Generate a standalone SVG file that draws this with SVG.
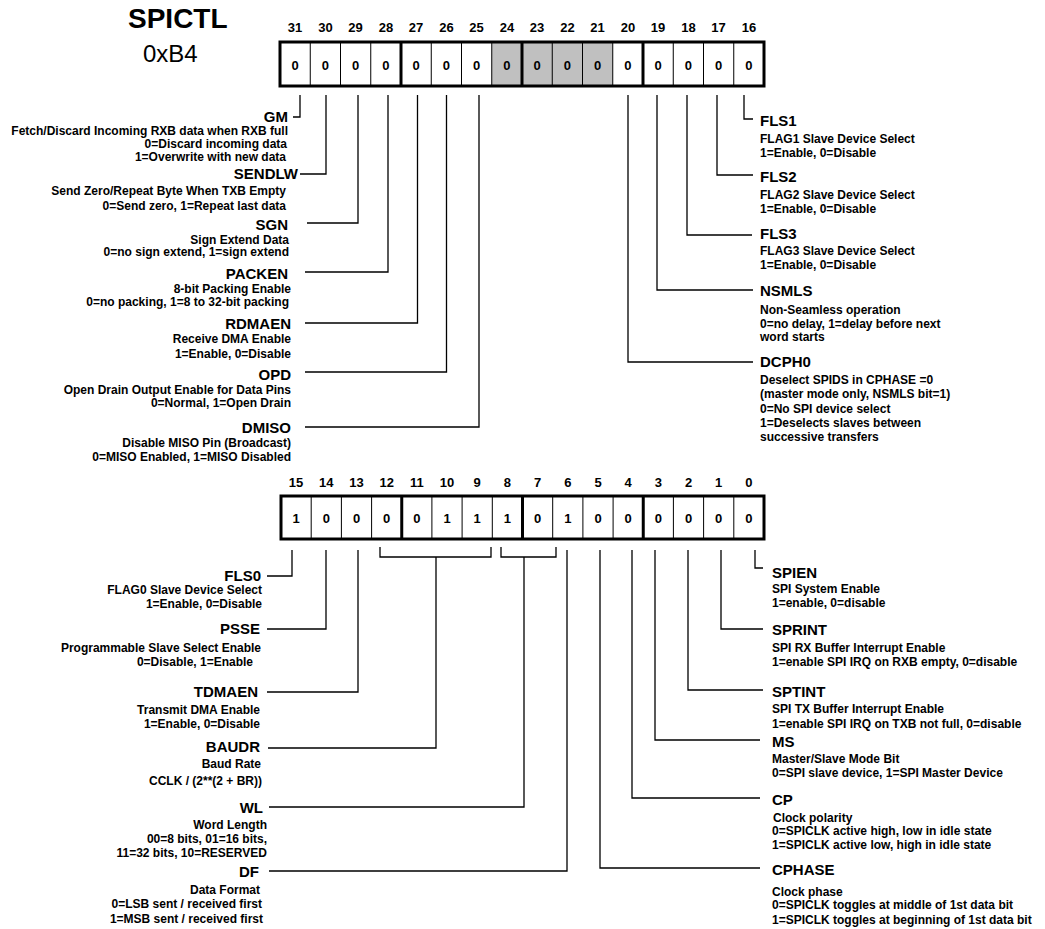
<svg xmlns="http://www.w3.org/2000/svg" width="1045" height="929" viewBox="0 0 1045 929">
<style>
text{font-family:"Liberation Sans",Arial,Helvetica,sans-serif;font-weight:bold;fill:#000}
.t{font-size:28px}
.a{font-size:24px;font-weight:normal}
.n{font-size:13px;text-anchor:middle}
.v{font-size:13px;text-anchor:middle}
.h{font-size:15px}
.s{font-size:12px}
.e{text-anchor:end}
.box{fill:none;stroke:#000;stroke-width:3}
.thin{stroke:#000;stroke-width:1}
.thick{stroke:#000;stroke-width:3}
.g{fill:#c0c0c0}
.c{fill:none;stroke:#000;stroke-width:1.3}
</style>
<rect width="1045" height="929" fill="#fff"/>
<g id="title">
<text class="t" x="128" y="28">SPICTL</text>
<text class="a" x="143" y="62">0xB4</text>
</g>
<g id="register-high">
<g class="n">
<text x="295.1" y="32">31</text><text x="325.4" y="32">30</text><text x="355.6" y="32">29</text><text x="385.9" y="32">28</text>
<text x="416.1" y="32">27</text><text x="446.4" y="32">26</text><text x="476.6" y="32">25</text><text x="506.9" y="32">24</text>
<text x="537.1" y="32">23</text><text x="567.4" y="32">22</text><text x="597.6" y="32">21</text><text x="627.9" y="32">20</text>
<text x="658.1" y="32">19</text><text x="688.4" y="32">18</text><text x="718.6" y="32">17</text><text x="748.9" y="32">16</text>
</g>
<rect class="g" x="491.75" y="42" width="121" height="44"/>
<g class="thin">
<line x1="310.25" y1="42" x2="310.25" y2="86"/><line x1="340.5" y1="42" x2="340.5" y2="86"/><line x1="370.75" y1="42" x2="370.75" y2="86"/>
<line x1="431.25" y1="42" x2="431.25" y2="86"/><line x1="461.5" y1="42" x2="461.5" y2="86"/><line x1="491.75" y1="42" x2="491.75" y2="86"/>
<line x1="552.25" y1="42" x2="552.25" y2="86"/><line x1="582.5" y1="42" x2="582.5" y2="86"/><line x1="612.75" y1="42" x2="612.75" y2="86"/>
<line x1="673.25" y1="42" x2="673.25" y2="86"/><line x1="703.5" y1="42" x2="703.5" y2="86"/><line x1="733.75" y1="42" x2="733.75" y2="86"/>
</g>
<g class="thick">
<line x1="401" y1="42" x2="401" y2="86"/><line x1="522" y1="42" x2="522" y2="86"/><line x1="643" y1="42" x2="643" y2="86"/>
</g>
<rect class="box" x="280" y="42" width="484" height="44"/>
<g class="v">
<text x="295.1" y="70">0</text><text x="325.4" y="70">0</text><text x="355.6" y="70">0</text><text x="385.9" y="70">0</text>
<text x="416.1" y="70">0</text><text x="446.4" y="70">0</text><text x="476.6" y="70">0</text><text x="506.9" y="70">0</text>
<text x="537.1" y="70">0</text><text x="567.4" y="70">0</text><text x="597.6" y="70">0</text><text x="627.9" y="70">0</text>
<text x="658.1" y="70">0</text><text x="688.4" y="70">0</text><text x="718.6" y="70">0</text><text x="748.9" y="70">0</text>
</g>
</g>
<g id="register-low">
<g class="n">
<text x="296.1" y="487">15</text><text x="326.3" y="487">14</text><text x="356.5" y="487">13</text><text x="386.7" y="487">12</text>
<text x="416.8" y="487">11</text><text x="447" y="487">10</text><text x="477.2" y="487">9</text><text x="507.4" y="487">8</text>
<text x="537.6" y="487">7</text><text x="567.8" y="487">6</text><text x="598" y="487">5</text><text x="628.2" y="487">4</text>
<text x="658.3" y="487">3</text><text x="688.5" y="487">2</text><text x="718.7" y="487">1</text><text x="748.9" y="487">0</text>
</g>
<g class="thin">
<line x1="311.2" y1="496" x2="311.2" y2="539"/><line x1="341.4" y1="496" x2="341.4" y2="539"/><line x1="371.6" y1="496" x2="371.6" y2="539"/>
<line x1="431.9" y1="496" x2="431.9" y2="539"/><line x1="462.1" y1="496" x2="462.1" y2="539"/><line x1="492.3" y1="496" x2="492.3" y2="539"/>
<line x1="552.7" y1="496" x2="552.7" y2="539"/><line x1="582.9" y1="496" x2="582.9" y2="539"/><line x1="613.1" y1="496" x2="613.1" y2="539"/>
<line x1="673.4" y1="496" x2="673.4" y2="539"/><line x1="703.6" y1="496" x2="703.6" y2="539"/><line x1="733.8" y1="496" x2="733.8" y2="539"/>
</g>
<g class="thick">
<line x1="401.75" y1="496" x2="401.75" y2="539"/><line x1="522.5" y1="496" x2="522.5" y2="539"/><line x1="643.25" y1="496" x2="643.25" y2="539"/>
</g>
<rect class="box" x="281" y="496" width="483" height="43"/>
<g class="v">
<text x="296.1" y="523">1</text><text x="326.3" y="523">0</text><text x="356.5" y="523">0</text><text x="386.7" y="523">0</text>
<text x="416.8" y="523">0</text><text x="447" y="523">1</text><text x="477.2" y="523">1</text><text x="507.4" y="523">1</text>
<text x="537.6" y="523">0</text><text x="567.8" y="523">1</text><text x="598" y="523">0</text><text x="628.2" y="523">0</text>
<text x="658.3" y="523">0</text><text x="688.5" y="523">0</text><text x="718.7" y="523">0</text><text x="748.9" y="523">0</text>
</g>
</g>
<g id="connectors" class="c">
<polyline points="300,95 300,117 293,117"/>
<polyline points="326,95 326,174 300,174"/>
<polyline points="358,95 358,223 307,223"/>
<polyline points="388,95 388,272 305,272"/>
<polyline points="417.5,95 417.5,323 305,323"/>
<polyline points="446.5,95 446.5,372 305,372"/>
<polyline points="479,95 479,427 305,427"/>
<polyline points="744,95 744,119 753,119"/>
<polyline points="717,95 717,175 753,175"/>
<polyline points="687,95 687,235 752,235"/>
<polyline points="657,95 657,290 753,290"/>
<polyline points="628,95 628,362 753,362"/>
<polyline points="292,550 292,576 267,576"/>
<polyline points="326,550 326,629 267,629"/>
<polyline points="358,550 358,692 267,692"/>
<polyline points="380,547 380,557 491,557 491,547"/>
<polyline points="436,557 436,748 268,748"/>
<polyline points="501,547 501,557 556,557 556,547"/>
<polyline points="524,557 524,807 269,807"/>
<polyline points="567,550 567,871 269,871"/>
<polyline points="755,550 755,568 763,568"/>
<polyline points="721,550 721,629 763,629"/>
<polyline points="688,550 688,690 763,690"/>
<polyline points="655,550 655,740 760,740"/>
<polyline points="632,550 632,798 760,798"/>
<polyline points="600,550 600,868 760,868"/>
</g>
<g id="GM" class="e">
<text class="h" x="288" y="122">GM</text>
<text class="s" x="288" y="135">Fetch/Discard Incoming RXB data when RXB full</text>
<text class="s" x="287" y="148">0=Discard incoming data</text>
<text class="s" x="286" y="161">1=Overwrite with new data</text>
</g>
<g id="SENDLW" class="e">
<text class="h" x="298" y="179">SENDLW</text>
<text class="s" x="286" y="195">Send Zero/Repeat Byte When TXB Empty</text>
<text class="s" x="286" y="210">0=Send zero, 1=Repeat last data</text>
</g>
<g id="SGN" class="e">
<text class="h" x="288" y="230">SGN</text>
<text class="s" x="289" y="244">Sign Extend Data</text>
<text class="s" x="289" y="256">0=no sign extend, 1=sign extend</text>
</g>
<g id="PACKEN" class="e">
<text class="h" x="288" y="279">PACKEN</text>
<text class="s" x="291" y="293">8-bit Packing Enable</text>
<text class="s" x="289" y="306">0=no packing, 1=8 to 32-bit packing</text>
</g>
<g id="RDMAEN" class="e">
<text class="h" x="291" y="329">RDMAEN</text>
<text class="s" x="291" y="343">Receive DMA Enable</text>
<text class="s" x="291" y="358">1=Enable, 0=Disable</text>
</g>
<g id="OPD" class="e">
<text class="h" x="291" y="380">OPD</text>
<text class="s" x="291" y="394">Open Drain Output Enable for Data Pins</text>
<text class="s" x="291" y="407">0=Normal, 1=Open Drain</text>
</g>
<g id="DMISO" class="e">
<text class="h" x="291" y="433">DMISO</text>
<text class="s" x="291" y="447">Disable MISO Pin (Broadcast)</text>
<text class="s" x="291" y="461">0=MISO Enabled, 1=MISO Disabled</text>
</g>
<g id="FLS1">
<text class="h" x="760" y="126">FLS1</text>
<text class="s" x="760" y="142.5">FLAG1 Slave Device Select</text>
<text class="s" x="760" y="156.5">1=Enable, 0=Disable</text>
</g>
<g id="FLS2">
<text class="h" x="760" y="182">FLS2</text>
<text class="s" x="760" y="198.5">FLAG2 Slave Device Select</text>
<text class="s" x="760" y="212.5">1=Enable, 0=Disable</text>
</g>
<g id="FLS3">
<text class="h" x="760" y="238.5">FLS3</text>
<text class="s" x="760" y="254.5">FLAG3 Slave Device Select</text>
<text class="s" x="760" y="268.5">1=Enable, 0=Disable</text>
</g>
<g id="NSMLS">
<text class="h" x="760" y="296">NSMLS</text>
<text class="s" x="760" y="313.5">Non-Seamless operation</text>
<text class="s" x="760" y="327.5">0=no delay, 1=delay before next</text>
<text class="s" x="760" y="340.5">word starts</text>
</g>
<g id="DCPH0">
<text class="h" x="760" y="367">DCPH0</text>
<text class="s" x="760" y="383.5">Deselect SPIDS in CPHASE =0</text>
<text class="s" x="760" y="397.5">(master mode only, NSMLS bit=1)</text>
<text class="s" x="760" y="412.5">0=No SPI device select</text>
<text class="s" x="760" y="426.5">1=Deselects slaves between</text>
<text class="s" x="760" y="440.5">successive transfers</text>
</g>
<g id="FLS0" class="e">
<text class="h" x="261" y="581">FLS0</text>
<text class="s" x="262" y="594">FLAG0 Slave Device Select</text>
<text class="s" x="262" y="608">1=Enable, 0=Disable</text>
</g>
<g id="PSSE" class="e">
<text class="h" x="260" y="634">PSSE</text>
<text class="s" x="261" y="651.5">Programmable Slave Select Enable</text>
<text class="s" x="253" y="665.5">0=Disable, 1=Enable</text>
</g>
<g id="TDMAEN" class="e">
<text class="h" x="258" y="697">TDMAEN</text>
<text class="s" x="260" y="713.5">Transmit DMA Enable</text>
<text class="s" x="260" y="727.5">1=Enable, 0=Disable</text>
</g>
<g id="BAUDR" class="e">
<text class="h" x="260" y="752">BAUDR</text>
<text class="s" x="261" y="767.5">Baud Rate</text>
<text class="s" x="262" y="784.5">CCLK / (2**(2 + BR))</text>
</g>
<g id="WL" class="e">
<text class="h" x="263" y="813">WL</text>
<text class="s" x="267" y="828.5">Word Length</text>
<text class="s" x="267" y="842.5">00=8 bits, 01=16 bits,</text>
<text class="s" x="267" y="856.5">11=32 bits, 10=RESERVED</text>
</g>
<g id="DF" class="e">
<text class="h" x="259" y="877">DF</text>
<text class="s" x="260" y="893.5">Data Format</text>
<text class="s" x="262" y="907.5">0=LSB sent / received first</text>
<text class="s" x="263" y="922.5">1=MSB sent / received first</text>
</g>
<g id="SPIEN">
<text class="h" x="772" y="578">SPIEN</text>
<text class="s" x="772" y="592.5">SPI System Enable</text>
<text class="s" x="772" y="606.5">1=enable, 0=disable</text>
</g>
<g id="SPRINT">
<text class="h" x="772" y="635">SPRINT</text>
<text class="s" x="772" y="651.5">SPI RX Buffer Interrupt Enable</text>
<text class="s" x="772" y="665.5">1=enable SPI IRQ on RXB empty, 0=disable</text>
</g>
<g id="SPTINT">
<text class="h" x="772" y="697">SPTINT</text>
<text class="s" x="772" y="712.5">SPI TX Buffer Interrupt Enable</text>
<text class="s" x="772" y="727.5">1=enable SPI IRQ on TXB not full, 0=disable</text>
</g>
<g id="MS">
<text class="h" x="772" y="747">MS</text>
<text class="s" x="772" y="762.5">Master/Slave Mode Bit</text>
<text class="s" x="772" y="776.5">0=SPI slave device, 1=SPI Master Device</text>
</g>
<g id="CP">
<text class="h" x="772" y="805">CP</text>
<text class="s" x="773" y="821.5">Clock polarity</text>
<text class="s" x="772" y="834.5">0=SPICLK active high, low in idle state</text>
<text class="s" x="772" y="848.5">1=SPICLK active low, high in idle state</text>
</g>
<g id="CPHASE">
<text class="h" x="772" y="875">CPHASE</text>
<text class="s" x="772" y="895.5">Clock phase</text>
<text class="s" x="772" y="908.5">0=SPICLK toggles at middle of 1st data bit</text>
<text class="s" x="772" y="923.5">1=SPICLK toggles at beginning of 1st data bit</text>
</g>
</svg>
